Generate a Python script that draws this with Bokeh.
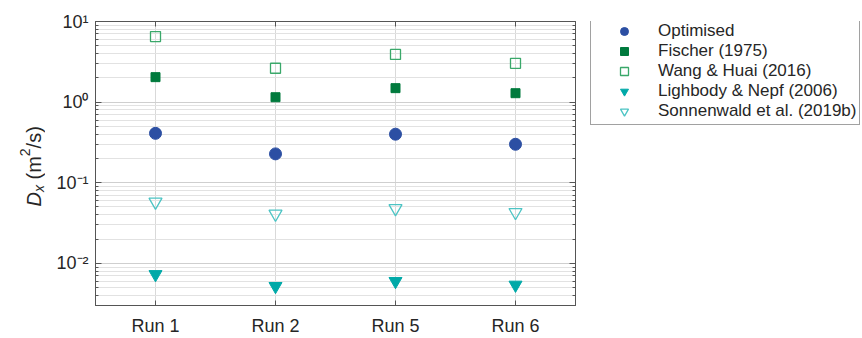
import numpy as np
from bokeh.plotting import figure
from bokeh.layouts import row
from bokeh.models import (Label, Legend, LegendItem, LogAxis, CategoricalAxis,
                          FixedTicker, ColumnDataSource, CustomJSTickFormatter,
                          Range1d)
from bokeh.embed import file_html
from bokeh.resources import INLINE

# ---- data ----
runs = ["Run 1", "Run 2", "Run 5", "Run 6"]
optimised = [0.41, 0.228, 0.40, 0.30]
fischer = [2.04, 1.15, 1.49, 1.29]
wang_huai = [6.5, 2.63, 3.9, 3.03]
lightbody_nepf = [0.0073, 0.0052, 0.0060, 0.0054]
sonnenwald = [0.058, 0.041, 0.048, 0.043]

series_names = ["Optimised", "Fischer (1975)", "Wang & Huai (2016)",
                "Lighbody & Nepf (2006)", "Sonnenwald et al. (2019b)"]

y_ticks = [0.01, 0.1, 1, 10]
y_tick_labels = ["10\u207b\u00b2", "10\u207b\u00b9", "10\u2070", "10\u00b9"]

FONT = "Liberation Sans"
TXT = "#262626"
AX = "#555555"
H = 338
TOP, BOTTOM = 21, 31
FRAME_H = H - TOP - BOTTOM
LABEL_W = 45
MAIN_W = 542
LEG_W = 862 - LABEL_W - MAIN_W

styles = [
    dict(marker="circle", size=12, fill_color="#2c4fa3", line_color="#2c4fa3"),
    dict(marker="square", size=9, fill_color="#007a3d", line_color="#007a3d"),
    dict(marker="square", size=10, fill_color=None, line_color="#3aa86a", line_width=1.3),
    dict(marker="inverted_triangle", size=13, fill_color="#00a9a8", line_color="#00a9a8"),
    dict(marker="inverted_triangle", size=13, fill_color=None, line_color="#4cc4c4", line_width=1.3),
]

# ---- main plot ----
p = figure(width=MAIN_W, height=H, x_range=runs, y_axis_type="log",
           y_range=(0.003, 10), output_backend="svg", toolbar_location=None,
           min_border_left=95 - LABEL_W, min_border_right=12, min_border_top=TOP,
           min_border_bottom=BOTTOM)
p.background_fill_color = "white"
p.border_fill_color = "white"
p.outline_line_color = AX
p.outline_line_width = 1

src = ColumnDataSource(dict(run=runs, opt=optimised, fis=fischer, wang=wang_huai,
                            lig=lightbody_nepf, son=sonnenwald))
for col, st in zip(["opt", "fis", "wang", "lig", "son"], styles):
    p.scatter("run", col, source=src, **st)

minor = [k * 10.0 ** e for e in range(-3, 1) for k in range(2, 10)]
minor = [m for m in minor if 0.003 <= m <= 10]
yt = FixedTicker(ticks=y_ticks, minor_ticks=minor)

for ax in p.yaxis:
    ax.ticker = yt
    ax.major_label_overrides = {t: l for t, l in zip(y_ticks, y_tick_labels)}
    ax.major_label_text_font = FONT
    ax.major_label_text_font_size = "18px"
    ax.major_label_text_color = TXT
    ax.major_label_standoff = 7
    ax.major_tick_in = 6
    ax.major_tick_out = 0
    ax.minor_tick_in = 3
    ax.minor_tick_out = 0
    ax.axis_line_color = AX
    ax.major_tick_line_color = AX
    ax.minor_tick_line_color = AX

for ax in p.xaxis:
    ax.major_label_text_font = FONT
    ax.major_label_text_font_size = "18px"
    ax.major_label_text_color = TXT
    ax.major_label_standoff = 10
    ax.major_tick_in = 5
    ax.major_tick_out = 0
    ax.axis_line_color = AX
    ax.major_tick_line_color = AX

ra = LogAxis(ticker=yt, formatter=CustomJSTickFormatter(code="return ''"),
             major_tick_in=6, major_tick_out=0, minor_tick_in=3, minor_tick_out=0,
             axis_line_color=AX, major_tick_line_color=AX,
             minor_tick_line_color=AX, major_label_standoff=0)
p.add_layout(ra, "right")
ta = CategoricalAxis(formatter=CustomJSTickFormatter(code="return ''"),
                     major_tick_in=5, major_tick_out=0, axis_line_color=AX,
                     major_tick_line_color=AX, major_label_standoff=0)
p.add_layout(ta, "above")

p.ygrid.ticker = yt
p.ygrid.grid_line_color = "#cfcfcf"
p.ygrid.minor_grid_line_color = "#e2e2e2"
p.xgrid.grid_line_color = "#d9d9d9"


def blank_fig(w):
    # frames in a row are aligned with the main plot's frame (TOP..H-BOTTOM)
    f = figure(width=w, height=H, x_range=Range1d(0, w), y_range=Range1d(0, FRAME_H),
               output_backend="svg", toolbar_location=None, min_border=0,
               x_axis_location=None, y_axis_location=None)
    f.grid.visible = False
    f.outline_line_color = None
    f.background_fill_color = "white"
    f.border_fill_color = "white"
    return f


# ---- y-axis label panel: D_x (m^2/s) built from pieces ----
lab = blank_fig(LABEL_W)
# (text, style, font px, baseline shift px, start offset along label px)
parts = [("D", "italic", 20, 0, 0.0),
         ("x", "italic", 14, 5, 14.4),
         ("(m", "normal", 20, 0, 27.0),
         ("2", "normal", 14, -9, 50.3),
         ("/s)", "normal", 20, 0, 58.1)]
y0 = (H - BOTTOM) - 208.0
for txt, style, fs, shift, off in parts:
    lab.add_layout(Label(x=33 + shift, y=y0 + off, x_units="screen", y_units="screen",
                         text=txt, angle=np.pi / 2,
                         text_font=FONT, text_font_style=style,
                         text_font_size=f"{fs}px", text_color=TXT,
                         text_align="left", text_baseline="alphabetic"))

# ---- legend panel (legend-only renderers hold a single NaN point: nothing drawn) ----
leg = blank_fig(LEG_W)
nan_src = ColumnDataSource(dict(x=[np.nan], y=[np.nan]))
items = []
for name, st in zip(series_names, styles):
    r = leg.scatter("x", "y", source=nan_src, **st)
    items.append(LegendItem(label=name, renderers=[r]))
legend = Legend(items=items, location=(3, (H - BOTTOM) - 127))
legend.label_text_font = FONT
legend.label_text_font_size = "17px"
legend.label_text_color = TXT
legend.border_line_color = "#444444"
legend.border_line_width = 1
legend.background_fill_color = "white"
legend.background_fill_alpha = 1
legend.padding = 3
legend.spacing = 0
legend.margin = 0
legend.glyph_width = 60
legend.glyph_height = 20
legend.label_height = 20
legend.label_standoff = 4
leg.add_layout(legend)

layout = row(lab, p, leg, spacing=0)
open("out.html", "w").write(file_html(layout, INLINE))
